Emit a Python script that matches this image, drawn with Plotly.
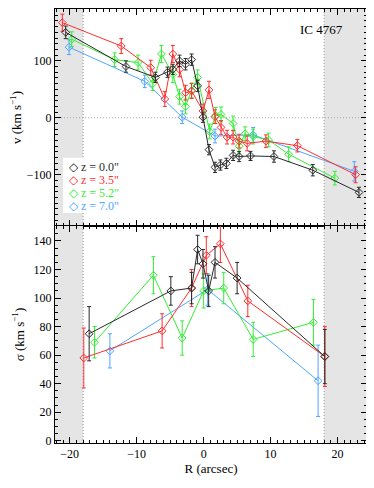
import plotly.graph_objects as go
from plotly.subplots import make_subplots

# rotation curve v(R) for each slit offset z
r_z00 = [-20.6, -11.6, -7.2, -5.4, -4.6, -3.6, -2.7, -1.8, -0.9, -0.1, 0.8, 1.7, 2.5, 3.4, 4.4, 5.3, 7.0, 10.5, 16.3, 23.2]
v_z00 = [150, 90, 71, 80, 85, 100, 94, 102, 56, 1, -56, -87, -83, -80, -66, -68, -67, -68, -92, -131]
ev_z00 = [11, 10, 9, 9, 9, 10, 10, 10, 10, 9, 9, 9, 9, 9, 9, 9, 8, 10, 10, 9]

r_z35 = [-21.1, -12.3, -7.9, -5.8, -4.6, -3.6, -2.7, -1.8, -0.1, 0.8, 1.7, 2.6, 3.5, 4.4, 5.3, 6.5, 9.3, 14.0, 22.7]
v_z35 = [167, 126, 88, 33, 112, 85, 44, 47, 12, 49, 2, -17, -34, -34, -41, -45, -41, -49, -100]
ev_z35 = [15, 13, 13, 13, 15, 13, 13, 13, 12, 15, 12, 12, 12, 12, 12, 13, 11, 11, 14]

r_z52 = [-19.7, -13.3, -9.8, -7.6, -6.3, -4.6, -3.6, -2.7, -1.8, -0.9, 0.9, 1.8, 2.6, 4.4, 5.3, 6.2, 7.4, 9.7, 12.7, 19.6]
v_z52 = [138, 102, 97, 60, 112, 76, 37, 20, 48, 71, -24, 4, 6, -10, -50, -28, -33, -39, -64, -106]
ev_z52 = [13, 12, 13, 12, 15, 14, 13, 13, 13, 13, 13, 14, 13, 13, 12, 12, 13, 12, 13, 12]

r_z70 = [-20.1, -8.8, -3.2, 1.7, 7.4, 22.5]
v_z70 = [124, 64, 1, -32, -30, -94]
ev_z70 = [13, 11, 11, 12, 13, 17]

# velocity dispersion sigma(R)
sr_z00 = [-17.1, -4.9, -1.8, -0.9, -0.1, 0.75, 1.7, 5.0, 18.1]
s_z00 = [75, 105, 107, 134, 124, 105, 125, 114, 59]
es_z00 = [19, 10, 11, 10, 10, 11, 11, 11, 19]

sr_z35 = [-17.9, -6.2, -1.8, 0.4, 2.5, 6.6, 18.1]
s_z35 = [58, 77, 107, 130, 138, 98, 59]
es_z35 = [21, 12, 13, 13, 13, 11, 21]

sr_z52 = [-16.3, -7.5, -3.2, 0.0, 3.0, 7.4, 16.4]
s_z52 = [69, 116, 72, 105, 107, 71, 83]
es_z52 = [11, 13, 12, 12, 11, 12, 16]

sr_z70 = [-14.0, 0.6, 17.1]
s_z70 = [63, 106, 42]
es_z70 = [12, 11, 25]

labels = ['z = 0.0"', 'z = 3.5"', 'z = 5.2"', 'z = 7.0"']
colors = ['#2a2a2a', '#ff2e2e', '#33ee33', '#4da6ff']

x_range = [-22.2, 24.4]
v_range = [-190, 191]
s_range = [-1.6, 150.5]
edge = 18

FONT = 'Liberation Serif, Times New Roman, serif'

fig = make_subplots(rows=2, cols=1, shared_xaxes=True, vertical_spacing=0)

vel = [(r_z00, v_z00, ev_z00), (r_z35, v_z35, ev_z35), (r_z52, v_z52, ev_z52), (r_z70, v_z70, ev_z70)]
sig = [(sr_z00, s_z00, es_z00), (sr_z35, s_z35, es_z35), (sr_z52, s_z52, es_z52), (sr_z70, s_z70, es_z70)]

# shaded regions outside |R| > 18
for row in (1, 2):
    yr = v_range if row == 1 else s_range
    for x0, x1 in ((x_range[0], -edge), (edge, x_range[1])):
        fig.add_shape(type='rect', x0=x0, x1=x1, y0=yr[0], y1=yr[1], fillcolor='#e5e5e5',
                      line_width=0, layer='below', row=row, col=1)
    for xe in (-edge, edge):
        fig.add_shape(type='line', x0=xe, x1=xe, y0=yr[0], y1=yr[1],
                      line=dict(color='#999999', width=1, dash='1px,2px'), layer='below', row=row, col=1)
fig.add_shape(type='line', x0=x_range[0], x1=x_range[1], y0=0, y1=0,
              line=dict(color='#aaaaaa', width=1, dash='1px,2px'), layer='below', row=1, col=1)

# draw in reverse so black ends up on top
for i in (3, 2, 1, 0):
    for row, (xs, ys, es) in ((1, vel[i]), (2, sig[i])):
        fig.add_trace(go.Scatter(
            x=xs, y=ys, mode='lines+markers', showlegend=False,
            line=dict(color=colors[i], width=1),
            marker=dict(symbol='diamond-open', size=6, color=colors[i], line=dict(width=1)),
            error_y=dict(type='data', array=es, color=colors[i], thickness=1, width=2),
        ), row=row, col=1)

# legend drawn by hand: white box + coloured lines of text
fig.add_shape(type='rect', xref='paper', yref='paper', x0=0.026, x1=0.232, y0=0.53, y1=0.657,
              fillcolor='white', line_width=0, layer='above')
for i in range(4):
    fig.add_annotation(text=f'\u25c7 {labels[i]}', xref='paper', yref='paper',
                       x=0.04, y=0.637 - i * 0.030, xanchor='left', yanchor='middle', height=11,
                       showarrow=False, font=dict(family=FONT, size=12, color=colors[i]))

axis_style = dict(showline=True, linecolor='black', linewidth=1, mirror='ticks', ticks='inside',
                  ticklen=6, tickcolor='black', showgrid=False, zeroline=False, automargin=False,
                  tickfont=dict(family=FONT, size=12, color='black'))

fig.update_xaxes(range=x_range, tickvals=[-20, -10, 0, 10, 20],
                 minor=dict(dtick=1, ticks='inside', ticklen=3, tickcolor='black', showgrid=False),
                 **axis_style)
fig.update_xaxes(title=dict(text='R (arcsec)', font=dict(family=FONT, size=13, color='black'), standoff=3),
                 ticktext=['\u221220', '\u221210', '0', '10', '20'], row=2, col=1)
fig.update_yaxes(range=v_range, tickvals=[-100, 0, 100], ticktext=['\u2212100', '0', '100'],
                 minor=dict(dtick=10, ticks='inside', ticklen=3, tickcolor='black', showgrid=False),
                 title=dict(text='v (km s<sup>\u22121</sup>)', font=dict(family=FONT, size=13, color='black'), standoff=6),
                 row=1, col=1, **axis_style)
fig.update_yaxes(range=s_range, tickvals=[0, 20, 40, 60, 80, 100, 120, 140],
                 minor=dict(dtick=5, ticks='inside', ticklen=3, tickcolor='black', showgrid=False),
                 title=dict(text='\u03c3 (km s<sup>\u22121</sup>)', font=dict(family=FONT, size=13, color='black'), standoff=6),
                 row=2, col=1, **axis_style)

fig.add_annotation(text='IC 4767', xref='paper', yref='paper', x=0.93, y=0.952,
                   xanchor='right', yanchor='middle', showarrow=False,
                   font=dict(family=FONT, size=13, color='black'))

# page body has an 8px margin, so the figure is sized/offset to land the plot at the right pixels
fig.update_layout(
    width=359, height=472,
    margin=dict(l=47, r=0, t=1, b=37),
    plot_bgcolor='white', paper_bgcolor='white',
    font=dict(family=FONT, size=12, color='black'),
    showlegend=False,
)

fig.write_html("out.html")
